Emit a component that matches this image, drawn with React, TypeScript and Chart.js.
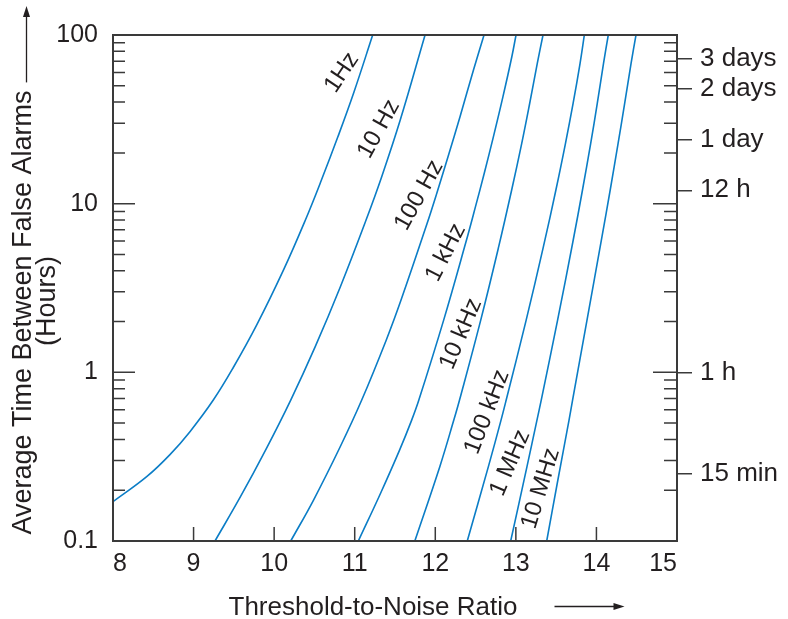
import React, { useEffect, useRef } from 'react';
import { Chart, registerables } from 'chart.js';

Chart.register(...registerables);

const FONT = "'Liberation Sans', Arial, Helvetica, sans-serif";
const TEXT = '#231f20';
const AXIS = '#3a3a3a';
const BLUE = '#0b7dc6';

// Axis ticks
const xTickValues = [8, 9, 10, 11, 12, 13, 14, 15];
const yTickValues = [0.1, 1, 10, 100];
const yTickLabels = ['0.1', '1', '10', '100'];
const hourTickValues = [0.25, 1, 12, 24, 48, 72];
const hourTickLabels = ['15 min', '1 h', '12 h', '1 day', '2 days', '3 days'];

// Series: bandwidth curves (x = threshold-to-noise ratio, y = hours)
const bandwidths = ['1Hz', '10 Hz', '100 Hz', '1 kHz', '10 kHz', '100 kHz', '1 MHz', '10 MHz'];

const snr1Hz = [8.0, 8.418, 8.707, 8.955, 9.245, 9.493, 9.784, 10.121, 10.388, 10.587, 10.791, 10.992, 11.223];
const hrs1Hz = [0.171, 0.2405, 0.325, 0.445, 0.685, 1.068, 1.911, 4.09, 8.0, 13.8, 24.9, 46.1, 100];

const snr10Hz = [9.266, 9.582, 9.895, 10.206, 10.51, 10.822, 11.141, 11.335, 11.565, 11.873];
const hrs10Hz = [0.1, 0.183, 0.347, 0.685, 1.42, 3.22, 8.0, 14.45, 31.3, 100];

const snr100Hz = [10.206, 10.489, 10.82, 11.087, 11.392, 11.576, 11.899, 12.018, 12.158, 12.307, 12.474, 12.605];
const hrs100Hz = [0.1, 0.175, 0.362, 0.685, 1.556, 2.69, 7.65, 11.5, 19.0, 32.8, 62.0, 100];

const snr1kHz = [11.045, 11.321, 11.558, 11.707, 11.796, 12.104, 12.376, 12.499, 12.607, 12.721, 12.84, 12.95, 13.002];
const hrs1kHz = [0.1, 0.192, 0.347, 0.521, 0.685, 2.04, 5.82, 9.6, 15.1, 24.9, 43.1, 74.3, 100];

const snr10kHz = [11.746, 12.056, 12.23, 12.301, 12.564, 12.787, 12.948, 13.073, 13.172, 13.266, 13.337];
const hrs10kHz = [0.1, 0.276, 0.521, 0.685, 2.04, 5.56, 12.05, 22.8, 39.4, 67.9, 100];

const snr100kHz = [12.397, 12.659, 12.816, 12.88, 13.128, 13.342, 13.497, 13.616, 13.711, 13.797, 13.85];
const hrs100kHz = [0.1, 0.276, 0.521, 0.685, 2.04, 5.56, 12.05, 22.8, 39.4, 67.9, 100];

const snr1MHz = [12.936, 13.138, 13.262, 13.315, 13.518, 13.712, 13.827, 13.929, 14.011, 14.088, 14.147];
const hrs1MHz = [0.1, 0.276, 0.521, 0.685, 2.04, 6.09, 12.05, 22.8, 39.4, 67.9, 100];

const snr10MHz = [13.383, 13.514, 13.66, 13.704, 13.883, 14.069, 14.171, 14.269, 14.351, 14.43, 14.491];
const hrs10MHz = [0.1, 0.22, 0.521, 0.685, 2.04, 6.37, 12.05, 22.8, 39.4, 67.9, 100];

const seriesSnr = [snr1Hz, snr10Hz, snr100Hz, snr1kHz, snr10kHz, snr100kHz, snr1MHz, snr10MHz];
const seriesHrs = [hrs1Hz, hrs10Hz, hrs100Hz, hrs1kHz, hrs10kHz, hrs100kHz, hrs1MHz, hrs10MHz];

// In-plot curve labels (data coordinates) and their rotation
const labelSnr = [10.84, 11.3, 11.8, 12.13, 12.32, 12.644, 12.93, 13.31];
const labelHours = [59.9, 27.7, 11.2, 5.13, 1.69, 0.582, 0.29, 0.205];
const labelAngle = [-56, -61, -61, -63, -67, -69, -67, -73];

const xTitle = 'Threshold-to-Noise Ratio';
const yTitleLines = ['Average Time Between False Alarms', '(Hours)'];

const decorations = {
  id: 'decorations',
  afterDraw(chart: any) {
    const { ctx, chartArea: a, scales } = chart;
    const xs = scales.x;
    const ys = scales.y;
    ctx.save();

    // inner tick marks (left & right)
    ctx.strokeStyle = AXIS;
    ctx.lineWidth = 1.5;
    ctx.beginPath();
    for (const dec of [0.1, 1, 10]) {
      for (let m = 1; m <= 9; m++) {
        if (dec === 0.1 && m === 1) continue;
        const v = dec * m;
        const py = ys.getPixelForValue(v);
        const lenL = m === 1 ? 22 : 12;
        const lenR = m === 1 ? 24 : 13;
        ctx.moveTo(a.left, py);
        ctx.lineTo(a.left + lenL, py);
        ctx.moveTo(a.right, py);
        ctx.lineTo(a.right - lenR, py);
      }
    }
    for (const v of xTickValues) {
      if (v === xs.min || v === xs.max) continue;
      const px = xs.getPixelForValue(v);
      ctx.moveTo(px, a.bottom);
      ctx.lineTo(px, a.bottom - 14);
    }
    ctx.stroke();

    // frame
    ctx.lineWidth = 2;
    ctx.strokeRect(a.left, a.top, a.right - a.left, a.bottom - a.top);

    // curve labels
    ctx.fillStyle = TEXT;
    ctx.font = `24px ${FONT}`;
    ctx.textAlign = 'center';
    ctx.textBaseline = 'middle';
    bandwidths.forEach((name, i) => {
      const px = xs.getPixelForValue(labelSnr[i]);
      const py = ys.getPixelForValue(labelHours[i]);
      ctx.save();
      ctx.translate(px, py);
      ctx.rotate((labelAngle[i] * Math.PI) / 180);
      ctx.fillText(name, 0, 0);
      ctx.restore();
    });

    // x title + arrow
    ctx.font = `26px ${FONT}`;
    ctx.textAlign = 'center';
    ctx.textBaseline = 'alphabetic';
    const cx = (a.left + a.right) / 2 - 22;
    const ty = a.bottom + 74;
    ctx.fillText(xTitle, cx, ty);
    const tw = ctx.measureText(xTitle).width;
    const ax0 = cx + tw / 2 + 37;
    const ax1 = ax0 + 70;
    const ay = a.bottom + 65.5;
    ctx.strokeStyle = TEXT;
    ctx.lineWidth = 1.3;
    ctx.beginPath();
    ctx.moveTo(ax0, ay);
    ctx.lineTo(ax1 - 8, ay);
    ctx.stroke();
    ctx.beginPath();
    ctx.moveTo(ax1, ay);
    ctx.lineTo(ax1 - 11, ay - 3.5);
    ctx.lineTo(ax1 - 11, ay + 3.5);
    ctx.closePath();
    ctx.fill();

    // y title + arrow
    ctx.font = `27px ${FONT}`;
    ctx.textAlign = 'center';
    ctx.textBaseline = 'middle';
    const cy1 = (a.top + a.bottom) / 2 + 24.5;
    const cy2 = (a.top + a.bottom) / 2 + 13;
    ctx.save();
    ctx.translate(24, cy1);
    ctx.rotate(-Math.PI / 2);
    ctx.fillText(yTitleLines[0], 0, 0);
    ctx.restore();
    ctx.save();
    ctx.translate(48, cy2);
    ctx.rotate(-Math.PI / 2);
    ctx.fillText(yTitleLines[1], 0, 0);
    ctx.restore();
    const w1 = ctx.measureText(yTitleLines[0]).width;
    const axx = 26.5;
    const ayStart = cy1 - w1 / 2 - 8;
    const ayTip = 6;
    ctx.beginPath();
    ctx.moveTo(axx, ayStart);
    ctx.lineTo(axx, ayTip + 8);
    ctx.stroke();
    ctx.beginPath();
    ctx.moveTo(axx, ayTip);
    ctx.lineTo(axx - 3.5, ayTip + 11);
    ctx.lineTo(axx + 3.5, ayTip + 11);
    ctx.closePath();
    ctx.fill();

    ctx.restore();
  },
};

export default function App() {
  const canvasRef = useRef<HTMLCanvasElement | null>(null);

  useEffect(() => {
    if (!canvasRef.current) return;
    const datasets = bandwidths.map((name, i) => ({
      label: name,
      data: seriesSnr[i].map((x, j) => ({ x, y: seriesHrs[i][j] })),
      borderColor: BLUE,
      backgroundColor: BLUE,
      borderWidth: 1.6,
      pointRadius: 0,
      fill: false,
      tension: 0.4,
      xAxisID: 'x',
      yAxisID: 'y',
    }));

    const tickFont = { size: 25, family: FONT };

    const chart = new Chart(canvasRef.current, {
      type: 'line',
      data: { datasets },
      plugins: [decorations],
      options: {
        responsive: false,
        maintainAspectRatio: false,
        animation: false,
        layout: { padding: { top: 35, left: 0, right: 0, bottom: 0 } },
        plugins: {
          legend: { display: false },
          tooltip: { enabled: false },
        },
        scales: {
          x: {
            type: 'linear',
            position: 'bottom',
            min: xTickValues[0],
            max: xTickValues[xTickValues.length - 1],
            afterBuildTicks: (s: any) => {
              s.ticks = xTickValues.map((v) => ({ value: v }));
            },
            ticks: {
              font: tickFont,
              color: TEXT,
              padding: 8,
              align: 'inner',
              maxRotation: 0,
              autoSkip: false,
              callback: (v: any) => String(v),
            },
            grid: { display: true, drawOnChartArea: false, drawTicks: false },
            border: { display: false },
            afterFit: (s: any) => {
              s.height = 78;
            },
          },
          y: {
            type: 'logarithmic',
            position: 'left',
            min: yTickValues[0],
            max: yTickValues[yTickValues.length - 1],
            afterBuildTicks: (s: any) => {
              s.ticks = yTickValues.map((v) => ({ value: v }));
            },
            ticks: {
              font: tickFont,
              color: TEXT,
              padding: 15,
              autoSkip: false,
              callback: (_v: any, i: number) => yTickLabels[i],
            },
            grid: { display: true, drawOnChartArea: false, drawTicks: false },
            border: { display: false },
            afterFit: (s: any) => {
              s.width = 113;
            },
          },
          y2: {
            type: 'logarithmic',
            position: 'right',
            min: yTickValues[0],
            max: yTickValues[yTickValues.length - 1],
            afterBuildTicks: (s: any) => {
              s.ticks = hourTickValues.map((v) => ({ value: v }));
            },
            ticks: {
              font: { size: 26, family: FONT },
              color: TEXT,
              padding: 8,
              autoSkip: false,
              callback: (_v: any, i: number) => hourTickLabels[i],
            },
            grid: {
              display: true,
              drawOnChartArea: false,
              drawTicks: true,
              tickLength: 15,
              color: AXIS,
              lineWidth: 1.5,
            },
            border: { display: false },
            afterFit: (s: any) => {
              s.width = 111;
            },
          },
        },
      } as any,
    });
    return () => chart.destroy();
  }, []);

  return (
    <div style={{ position: 'absolute', left: 0, top: 0, width: 788, height: 619, background: '#fff' }}>
      <canvas ref={canvasRef} width={788} height={619} style={{ display: 'block' }} />
    </div>
  );
}
